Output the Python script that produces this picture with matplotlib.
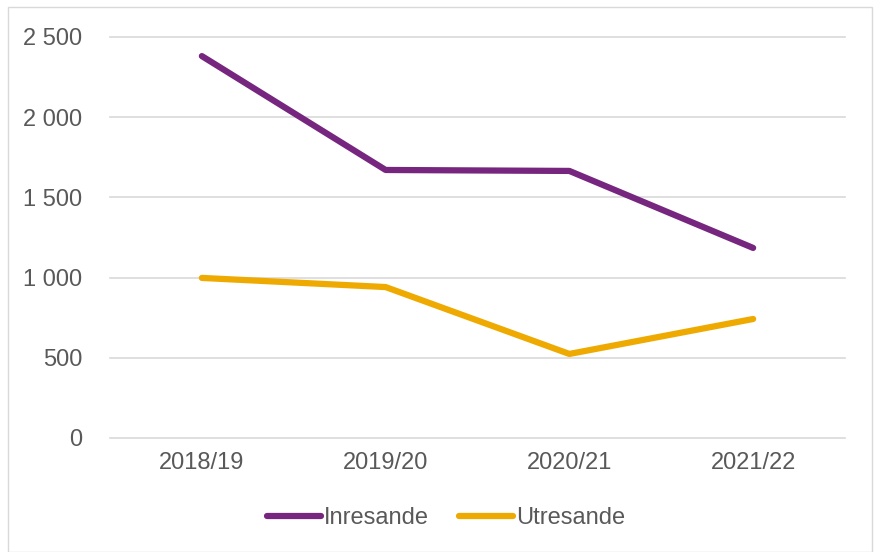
import matplotlib

matplotlib.use("Agg")
import matplotlib.pyplot as plt
from matplotlib.patches import Rectangle
from matplotlib.ticker import FuncFormatter

YEARS = ["2018/19", "2019/20", "2020/21", "2021/22"]
INRESANDE = [2381, 1671, 1665, 1185]
UTRESANDE = [998, 941, 524, 742]

PURPLE = "#76267F"
GOLD = "#EEAA00"
TEXT = "#595959"

plt.rcParams.update({"font.family": ["Liberation Sans", "DejaVu Sans"], "font.size": 17})

fig = plt.figure(figsize=(8.74, 5.52), dpi=100)
fig.patches.append(
    Rectangle((8 / 874, 0), 864 / 874, 545 / 552, transform=fig.transFigure,
              fill=False, edgecolor="#D9D9D9", linewidth=1)
)
ax = fig.add_axes([110 / 874, 1 - 438 / 552, 735 / 874, 401 / 552])

x = range(len(YEARS))
ax.plot(x, INRESANDE, color=PURPLE, linewidth=4.5, label="Inresande", solid_capstyle="round")
ax.plot(x, UTRESANDE, color=GOLD, linewidth=4.5, label="Utresande", solid_capstyle="round")

ax.set_xlim(-0.5, len(YEARS) - 0.5)
ax.set_ylim(0, 2500)
ax.set_yticks(range(0, 2501, 500))
ax.yaxis.set_major_formatter(FuncFormatter(lambda v, _: f"{int(v):,}".replace(",", " ")))
ax.set_xticks(list(x))
ax.set_xticklabels(YEARS)
ax.grid(axis="y", color="#D9D9D9", linewidth=1.2)
for gl in ax.get_ygridlines():
    gl.set_clip_on(False)
ax.set_axisbelow(True)
for side in ("top", "right", "left", "bottom"):
    ax.spines[side].set_visible(False)
ax.tick_params(length=0, colors=TEXT, labelsize=17)
ax.tick_params(axis="y", pad=20)
ax.tick_params(axis="x", pad=10)

ax.legend(loc="center", bbox_to_anchor=(0.457, -0.2), ncol=2, frameon=False,
          handlelength=2.3, handletextpad=0.12, columnspacing=1.25, labelcolor=TEXT,
          fontsize=17)

fig.savefig("out.png", dpi=100)
